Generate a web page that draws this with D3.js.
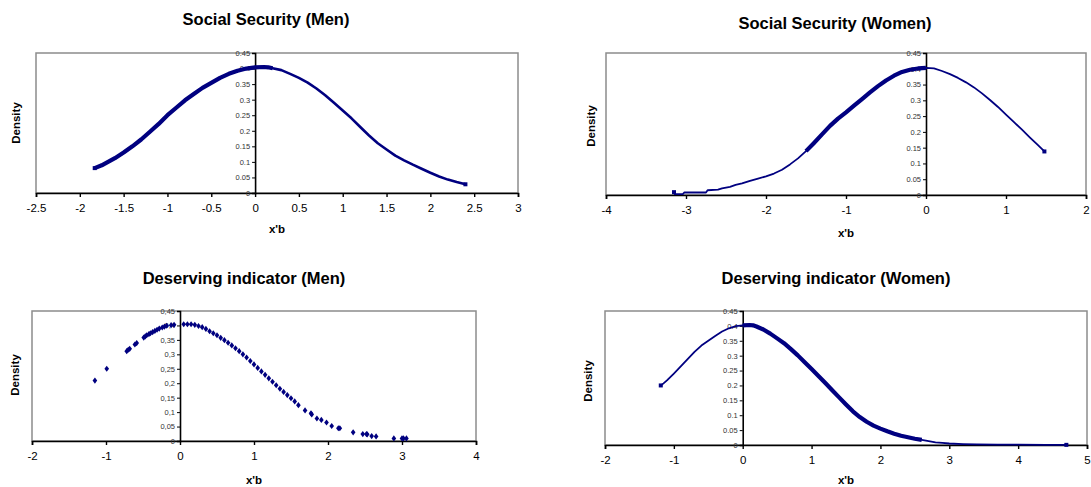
<!DOCTYPE html>
<html>
<head>
<meta charset="utf-8">
<script src="https://cdn.jsdelivr.net/npm/d3@7"></script>
<style>
  body { margin: 0; background: #fff; }
  svg text { font-family: "Liberation Sans", Arial, sans-serif; }
</style>
</head>
<body>
<div id="chart"></div>
<script>
// Densidades estimadas x'b

// Social Security (Men)
let ssMenX = [-1.83, -1.75, -1.6, -1.5, -1.4, -1.3, -1.2, -1.1, -1.0, -0.9, -0.8, -0.7, -0.6, -0.5, -0.4, -0.3, -0.2, -0.1,
    0, 0.1, 0.15, 0.2, 0.3, 0.4, 0.5, 0.6, 0.7, 0.8, 0.9, 1.0, 1.1, 1.2, 1.3, 1.4, 1.5, 1.6, 1.7, 1.8, 1.9, 2.0, 2.1, 2.2, 2.3, 2.4];
let ssMenY = [0.080, 0.089, 0.112, 0.130, 0.150, 0.172, 0.197, 0.222, 0.250, 0.274, 0.298, 0.318, 0.338, 0.354, 0.370, 0.383, 0.393, 0.400,
    0.404, 0.405, 0.404, 0.401, 0.395, 0.383, 0.370, 0.355, 0.336, 0.314, 0.290, 0.265, 0.240, 0.212, 0.185, 0.160, 0.140, 0.120, 0.105, 0.091, 0.078, 0.065, 0.053, 0.043, 0.035, 0.028];

// Social Security (Women)
let ssWomenX = [-3.15, -3.14, -3.04, -3.02, -2.75, -2.73, -2.6, -2.55, -2.45, -2.38, -2.3, -2.2, -2.1, -2.0, -1.9, -1.8, -1.7, -1.6, -1.5, -1.4, -1.3, -1.2, -1.1,
    -1.0, -0.9, -0.8, -0.7, -0.6, -0.5, -0.4, -0.3, -0.2, -0.1, 0, 0.1, 0.2, 0.3, 0.4, 0.5, 0.6, 0.7, 0.8, 0.9, 1.0, 1.1, 1.2, 1.3, 1.4, 1.48];
let ssWomenY = [0.009, 0.003, 0.003, 0.008, 0.008, 0.015, 0.017, 0.021, 0.026, 0.032, 0.037, 0.045, 0.052, 0.059, 0.068, 0.080, 0.097, 0.116, 0.139, 0.165, 0.192, 0.219, 0.242,
    0.262, 0.283, 0.304, 0.325, 0.345, 0.363, 0.378, 0.390, 0.397, 0.401, 0.403, 0.401, 0.393, 0.383, 0.371, 0.357, 0.341, 0.322, 0.301, 0.279, 0.255, 0.231, 0.207, 0.182, 0.158, 0.138];

// Deserving indicator (Men) - pontos soltos
let desMenX = [-1.15, -0.99, -0.72, -0.70, -0.68, -0.61, -0.585, -0.49, -0.47, -0.45, -0.42, -0.40, -0.37, -0.34, -0.31, -0.28, -0.24, -0.21, -0.18, -0.12, -0.08,
    0.05, 0.1, 0.15, 0.2, 0.25, 0.3, 0.35, 0.4, 0.45, 0.5, 0.55, 0.6, 0.65, 0.7, 0.75, 0.8, 0.85, 0.9, 0.95, 1.0, 1.05, 1.1, 1.15, 1.2, 1.25, 1.3, 1.35, 1.4, 1.45, 1.5, 1.55, 1.6,
    1.69, 1.77, 1.78, 1.85, 1.91, 1.98, 2.05, 2.14, 2.16, 2.34, 2.47, 2.52, 2.53, 2.59, 2.65, 2.89, 3.0, 3.02, 3.06];
let desMenY = [0.209, 0.250, 0.311, 0.316, 0.319, 0.334, 0.339, 0.358, 0.362, 0.366, 0.370, 0.373, 0.377, 0.381, 0.385, 0.389, 0.393, 0.396, 0.399, 0.401, 0.402,
    0.404, 0.404, 0.404, 0.402, 0.398, 0.394, 0.388, 0.380, 0.373, 0.366, 0.357, 0.349, 0.340, 0.331, 0.321, 0.311, 0.300, 0.289, 0.277, 0.265, 0.253, 0.241, 0.229, 0.217, 0.205, 0.193, 0.181, 0.170, 0.159, 0.148, 0.137, 0.124,
    0.106, 0.096, 0.092, 0.078, 0.073, 0.064, 0.052, 0.044, 0.044, 0.030, 0.024, 0.024, 0.023, 0.017, 0.016, 0.009, 0.009, 0.009, 0.009];

// Deserving indicator (Women)
let desWomenX = [-1.19, -1.15, -1.1, -1.0, -0.9, -0.8, -0.7, -0.6, -0.5, -0.4, -0.3, -0.2, -0.1, 0, 0.1, 0.15, 0.2, 0.3, 0.4, 0.5, 0.6, 0.7, 0.8, 0.9,
    1.0, 1.1, 1.2, 1.3, 1.4, 1.5, 1.6, 1.7, 1.8, 1.9, 2.0, 2.1, 2.2, 2.3, 2.4, 2.5, 2.6, 2.7, 2.8, 2.9, 3.0, 3.2, 3.4, 3.7, 4.0, 4.4, 4.7];
let desWomenY = [0.200, 0.207, 0.217, 0.240, 0.264, 0.288, 0.313, 0.334, 0.350, 0.366, 0.381, 0.392, 0.399, 0.402, 0.403, 0.402, 0.398, 0.388, 0.374, 0.358, 0.342, 0.322, 0.301, 0.278,
    0.255, 0.232, 0.208, 0.184, 0.160, 0.136, 0.113, 0.094, 0.078, 0.065, 0.055, 0.046, 0.038, 0.031, 0.026, 0.021, 0.017, 0.013, 0.009, 0.007, 0.005, 0.003, 0.002, 0.001, 0.001, 0.0005, 0.0005];

// Ticks
let yTicks = [0, 0.05, 0.1, 0.15, 0.2, 0.25, 0.3, 0.35, 0.4, 0.45];
let ssMenTicks = [-2.5, -2, -1.5, -1, -0.5, 0, 0.5, 1, 1.5, 2, 2.5, 3];
let ssWomenTicks = [-4, -3, -2, -1, 0, 1, 2];
let desMenTicks = [-2, -1, 0, 1, 2, 3, 4];
let desWomenTicks = [-2, -1, 0, 1, 2, 3, 4, 5];

let titles = ['Social Security (Men)', 'Social Security (Women)', 'Deserving indicator (Men)', 'Deserving indicator (Women)'];

let width = 1091;
let height = 487;
let navy = '#000080';

let svg = d3.select('#chart')
    .append('svg')
    .attr('width', width)
    .attr('height', height);

svg.append('rect').attr('width', width).attr('height', height).attr('fill', '#fff');

// layout dos 4 paineis
let panels = [
    { title: titles[0], xs: ssMenX, ys: ssMenY, ticks: ssMenTicks, comma: false, mode: 'line',
      box: [36, 53, 518, 193], titleXY: [266, 25], densXY: [16, 123], xbY: 233, base: 2.6, thick: [-1.9, 0.2] },
    { title: titles[1], xs: ssWomenX, ys: ssWomenY, ticks: ssWomenTicks, comma: false, mode: 'line',
      box: [606, 53, 1086, 195], titleXY: [835, 29], densXY: [591, 126], xbY: 237, base: 1.8, thick: [-1.55, 0.05] },
    { title: titles[2], xs: desMenX, ys: desMenY, ticks: desMenTicks, comma: true, mode: 'dots',
      box: [32, 311, 476, 441], titleXY: [244, 284], densXY: [15, 375], xbY: 484, base: 0, thick: null },
    { title: titles[3], xs: desWomenX, ys: desWomenY, ticks: desWomenTicks, comma: false, mode: 'line',
      box: [605, 311, 1087, 445], titleXY: [836, 284], densXY: [588, 381], xbY: 484, base: 1.8, thick: [0, 2.6] }
];

panels.forEach(p => {
    let [x0, y0, x1, y1] = p.box;
    let g = svg.append('g');

    let x_scale = d3.scaleLinear()
        .domain([p.ticks[0], p.ticks[p.ticks.length - 1]])
        .range([x0, x1]);
    let y_scale = d3.scaleLinear()
        .domain([0, 0.45])
        .range([y1, y0]);

    // moldura cinza
    g.append('rect')
        .attr('x', x0).attr('y', y0)
        .attr('width', x1 - x0).attr('height', y1 - y0)
        .attr('fill', 'none')
        .attr('stroke', '#8c8c8c')
        .attr('stroke-width', 1.5);

    // eixo x
    let x_axis = d3.axisBottom(x_scale)
        .tickValues(p.ticks)
        .tickSize(4)
        .tickPadding(7)
        .tickFormat(d => String(d));
    let gx = g.append('g')
        .attr('transform', 'translate(0,' + y1 + ')')
        .call(x_axis);
    gx.select('.domain').attr('stroke', '#000').attr('stroke-width', 1.6);
    gx.selectAll('.tick line').attr('stroke', '#000').attr('stroke-width', 1.4);
    gx.selectAll('.tick text')
        .attr('font-size', '11.5px')
        .attr('fill', '#000')
        .style('font-family', '"Liberation Sans", Arial, sans-serif');

    // eixo y no x=0
    let fmt = d => {
        let s = String(+d.toFixed(2));
        return p.comma ? s.replace('.', ',') : s;
    };
    let y_axis = d3.axisLeft(y_scale)
        .tickValues(yTicks)
        .tickSize(3)
        .tickPadding(2)
        .tickFormat(fmt);
    let gy = g.append('g')
        .attr('transform', 'translate(' + x_scale(0) + ',0)')
        .call(y_axis);
    gy.select('.domain').attr('stroke', '#000').attr('stroke-width', 1.6);
    gy.selectAll('.tick line').attr('stroke', '#000');
    gy.selectAll('.tick text')
        .attr('font-size', '7.5px')
        .attr('fill', '#333')
        .style('font-family', '"Liberation Sans", Arial, sans-serif');

    let pts = p.xs.map((v, i) => [v, p.ys[i]]);

    if (p.mode === 'line') {
        let line = d3.line()
            .x(d => x_scale(d[0]))
            .y(d => y_scale(d[1]));
        g.append('path')
            .attr('d', line(pts))
            .attr('fill', 'none')
            .attr('stroke', navy)
            .attr('stroke-width', p.base)
            .attr('stroke-linejoin', 'round');
        let thickPts = pts.filter(d => d[0] >= p.thick[0] && d[0] <= p.thick[1]);
        g.append('path')
            .attr('d', line(thickPts))
            .attr('fill', 'none')
            .attr('stroke', navy)
            .attr('stroke-width', 4.2)
            .attr('stroke-linejoin', 'round');
        // marcadores nas pontas
        g.selectAll('rect.end')
            .data([pts[0], pts[pts.length - 1]])
            .enter()
            .append('rect')
            .attr('x', d => x_scale(d[0]) - 2)
            .attr('y', d => y_scale(d[1]) - 2)
            .attr('width', 4).attr('height', 4)
            .attr('fill', navy);
    } else {
        g.selectAll('path.dot')
            .data(pts)
            .enter()
            .append('path')
            .attr('d', d3.symbol().type(d3.symbolDiamond).size(11))
            .attr('transform', d => 'translate(' + x_scale(d[0]) + ',' + y_scale(d[1]) + ') scale(1.3,1)')
            .attr('fill', navy);
    }

    // textos
    g.append('text')
        .attr('x', p.titleXY[0]).attr('y', p.titleXY[1])
        .attr('text-anchor', 'middle')
        .attr('font-size', '16.5px')
        .attr('font-weight', 'bold')
        .text(p.title);

    g.append('text')
        .attr('transform', 'translate(' + (p.densXY[0] + 4) + ',' + p.densXY[1] + ') rotate(-90)')
        .attr('text-anchor', 'middle')
        .attr('font-size', '11.5px')
        .attr('font-weight', 'bold')
        .text('Density');

    g.append('text')
        .attr('x', (x0 + x1) / 2).attr('y', p.xbY)
        .attr('text-anchor', 'middle')
        .attr('font-size', '11.5px')
        .attr('font-weight', 'bold')
        .text("x'b");
});
</script>
</body>
</html>
